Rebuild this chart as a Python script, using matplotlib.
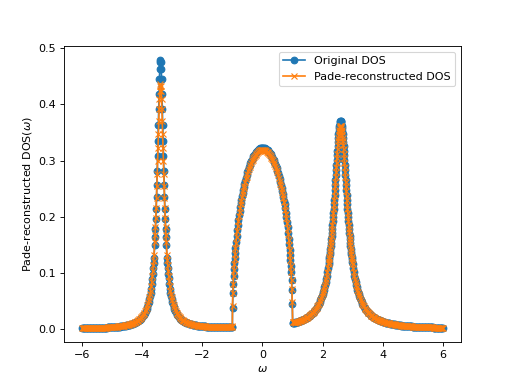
import matplotlib
matplotlib.use('Agg')
import matplotlib.pyplot as plt

# frequency grid (denser where the curves are steep)
omega = [
    # left tail
    -6.000, -5.975, -5.950, -5.925, -5.900, -5.875, -5.850, -5.825,
    -5.800, -5.775, -5.750, -5.725, -5.700, -5.675, -5.650, -5.625,
    -5.600, -5.575, -5.550, -5.525, -5.500, -5.475, -5.450, -5.425,
    -5.400, -5.375, -5.350, -5.325, -5.300, -5.275, -5.250, -5.225,
    -5.200, -5.175, -5.150, -5.125, -5.100, -5.075, -5.050, -5.025,
    -5.000, -4.975, -4.950, -4.925, -4.900, -4.875, -4.850, -4.825,
    -4.800, -4.775, -4.750, -4.725, -4.700, -4.675, -4.650, -4.625,
    -4.600, -4.575, -4.550, -4.525, -4.500, -4.475, -4.450, -4.425,
    -4.400, -4.375, -4.350, -4.325, -4.300, -4.275, -4.250, -4.225,
    -4.200, -4.175, -4.150, -4.125, -4.100, -4.075, -4.050, -4.025,
    -4.000,
    -3.975, -3.95, -3.925, -3.90, -3.875, -3.85, -3.825, -3.80, -3.78, -3.76,
    -3.74, -3.72, -3.70, -3.68, -3.66, -3.645, -3.63, -3.618, -3.606,
    # first peak
    -3.582, -3.570, -3.558, -3.546, -3.534, -3.522, -3.510, -3.498, -3.486, -3.474,
    -3.462, -3.450, -3.438, -3.426, -3.414, -3.402, -3.390, -3.378, -3.366, -3.354,
    -3.342, -3.330, -3.318, -3.306, -3.294, -3.282, -3.270, -3.258, -3.246, -3.234,
    -3.222, -3.210, -3.198,
    -3.174, -3.162, -3.15, -3.135, -3.12, -3.10, -3.08, -3.06, -3.04, -3.02,
    -3.00, -2.98, -2.955, -2.93, -2.905, -2.88, -2.855, -2.83, -2.805, -2.78,
    -2.750, -2.725, -2.700, -2.675, -2.650, -2.625, -2.600, -2.575,
    -2.550, -2.525, -2.500, -2.475, -2.450, -2.425, -2.400, -2.375,
    -2.350, -2.325, -2.300, -2.275, -2.250, -2.225, -2.200, -2.175,
    -2.150, -2.125, -2.100, -2.075, -2.050, -2.025, -2.000, -1.975,
    -1.950, -1.925, -1.900, -1.875, -1.850, -1.825, -1.800, -1.775,
    -1.750, -1.725, -1.700, -1.675, -1.650, -1.625, -1.600, -1.575,
    -1.550, -1.525, -1.500, -1.475, -1.450, -1.425, -1.400, -1.375,
    -1.350, -1.325, -1.300, -1.275, -1.250, -1.225, -1.200, -1.175,
    -1.150, -1.125, -1.100, -1.075, -1.050, -1.025, -1.000,
    # central band
    -0.994, -0.982, -0.970, -0.958, -0.946, -0.934, -0.922, -0.910, -0.895, -0.880,
    -0.86, -0.84, -0.82, -0.80, -0.78, -0.76, -0.74, -0.72, -0.70, -0.68,
    -0.66, -0.64, -0.62, -0.60, -0.575, -0.55, -0.525, -0.50, -0.475, -0.45,
    -0.425, -0.40, -0.375, -0.35, -0.325, -0.30, -0.275, -0.25, -0.225, -0.20,
    -0.175, -0.15, -0.125, -0.10, -0.075, -0.05, -0.025, 0.0,
    0.025, 0.05, 0.075, 0.10, 0.125, 0.15, 0.175, 0.20, 0.225, 0.25,
    0.275, 0.30, 0.325, 0.35, 0.375, 0.40, 0.425, 0.45, 0.475, 0.50,
    0.525, 0.55, 0.575, 0.60, 0.62, 0.64, 0.66, 0.68, 0.70, 0.72,
    0.74, 0.76, 0.78, 0.80, 0.82, 0.84, 0.86, 0.880, 0.895, 0.910,
    0.922, 0.934, 0.946, 0.958, 0.970, 0.982, 0.994,
    1.006, 1.025, 1.050, 1.075, 1.100, 1.125, 1.150, 1.175,
    1.200, 1.225, 1.250, 1.275, 1.300, 1.325, 1.350, 1.375,
    1.400, 1.425, 1.450, 1.475, 1.500, 1.525, 1.550, 1.575,
    1.600, 1.625, 1.650, 1.675, 1.700, 1.725, 1.750, 1.775,
    1.800, 1.825, 1.850, 1.875, 1.900, 1.925, 1.950, 1.975,
    2.000,
    # second peak
    2.02, 2.04, 2.06, 2.08, 2.10, 2.12, 2.14, 2.16, 2.18,
    2.20, 2.21, 2.22, 2.23, 2.24, 2.25, 2.26, 2.27, 2.28, 2.29,
    2.30, 2.31, 2.32, 2.33, 2.34, 2.35, 2.36, 2.37, 2.38, 2.39,
    2.40, 2.41, 2.42, 2.43, 2.44, 2.45, 2.46, 2.47, 2.48, 2.49,
    2.50, 2.51, 2.52, 2.53, 2.54, 2.55, 2.56, 2.57, 2.58, 2.59,
    2.60, 2.61, 2.62, 2.63, 2.64, 2.65, 2.66, 2.67, 2.68, 2.69,
    2.70, 2.71, 2.72, 2.73, 2.74, 2.75, 2.76, 2.77, 2.78, 2.79,
    2.80, 2.81, 2.82, 2.83, 2.84, 2.85, 2.86, 2.87, 2.88, 2.89,
    2.90, 2.91, 2.92, 2.93, 2.94, 2.95, 2.96, 2.97, 2.98, 2.99,
    3.00,
    3.02, 3.04, 3.06, 3.08, 3.10, 3.12, 3.14, 3.16, 3.18,
    # right tail
    3.200, 3.225, 3.250, 3.275, 3.300, 3.325, 3.350, 3.375,
    3.400, 3.425, 3.450, 3.475, 3.500, 3.525, 3.550, 3.575,
    3.600, 3.625, 3.650, 3.675, 3.700, 3.725, 3.750, 3.775,
    3.800, 3.825, 3.850, 3.875, 3.900, 3.925, 3.950, 3.975,
    4.000, 4.025, 4.050, 4.075, 4.100, 4.125, 4.150, 4.175,
    4.200, 4.225, 4.250, 4.275, 4.300, 4.325, 4.350, 4.375,
    4.400, 4.425, 4.450, 4.475, 4.500, 4.525, 4.550, 4.575,
    4.600, 4.625, 4.650, 4.675, 4.700, 4.725, 4.750, 4.775,
    4.800, 4.825, 4.850, 4.875, 4.900, 4.925, 4.950, 4.975,
    5.000, 5.025, 5.050, 5.075, 5.100, 5.125, 5.150, 5.175,
    5.200, 5.225, 5.250, 5.275, 5.300, 5.325, 5.350, 5.375,
    5.400, 5.425, 5.450, 5.475, 5.500, 5.525, 5.550, 5.575,
    5.600, 5.625, 5.650, 5.675, 5.700, 5.725, 5.750, 5.775,
    5.800, 5.825, 5.850, 5.875, 5.900, 5.925, 5.950, 5.975,
    6.000,
]

dos_original = [
    0.0016, 0.0016, 0.0016, 0.0017, 0.0017, 0.0017, 0.0017, 0.0018,
    0.0018, 0.0019, 0.0019, 0.0019, 0.0020, 0.0020, 0.0020, 0.0021,
    0.0021, 0.0022, 0.0022, 0.0022, 0.0023, 0.0023, 0.0024, 0.0024,
    0.0024, 0.0025, 0.0025, 0.0026, 0.0027, 0.0027, 0.0028, 0.0029,
    0.0029, 0.0030, 0.0031, 0.0031, 0.0032, 0.0033, 0.0034, 0.0035,
    0.0036, 0.0037, 0.0038, 0.0039, 0.0040, 0.0041, 0.0043, 0.0044,
    0.0045, 0.0047, 0.0048, 0.0050, 0.0052, 0.0054, 0.0056, 0.0058,
    0.0060, 0.0062, 0.0065, 0.0067, 0.0070, 0.0073, 0.0076, 0.0079,
    0.0083, 0.0087, 0.0091, 0.0096, 0.0101, 0.0106, 0.0112, 0.0118,
    0.0125, 0.0133, 0.0141, 0.0150, 0.0160, 0.0171, 0.0183, 0.0197,
    0.0213,
    0.0230, 0.0250, 0.0272, 0.0297, 0.0325, 0.0358, 0.0396, 0.0441, 0.0482, 0.0529,
    0.0583, 0.0645, 0.0717, 0.0802, 0.0901, 0.0987, 0.1085, 0.1172, 0.1270,
    0.1500, 0.1635, 0.1786, 0.1954, 0.2140, 0.2346, 0.2572, 0.2817, 0.3081, 0.3358,
    0.3642, 0.3923, 0.4187, 0.4450, 0.4638, 0.4757, 0.4800, 0.4757, 0.4638, 0.4450,
    0.4187, 0.3923, 0.3642, 0.3358, 0.3081, 0.2817, 0.2572, 0.2346, 0.2140, 0.1954,
    0.1786, 0.1635, 0.1500,
    0.1272, 0.1174, 0.1087, 0.0989, 0.0903, 0.0804, 0.0719, 0.0647, 0.0585, 0.0531,
    0.0484, 0.0443, 0.0398, 0.0360, 0.0327, 0.0299, 0.0274, 0.0252, 0.0233, 0.0216,
    0.0197, 0.0184, 0.0172, 0.0161, 0.0151, 0.0143, 0.0135, 0.0128,
    0.0121, 0.0115, 0.0109, 0.0104, 0.0100, 0.0096, 0.0092, 0.0088,
    0.0085, 0.0081, 0.0078, 0.0075, 0.0073, 0.0070, 0.0068, 0.0066,
    0.0064, 0.0062, 0.0060, 0.0058, 0.0057, 0.0055, 0.0054, 0.0052,
    0.0051, 0.0050, 0.0049, 0.0048, 0.0047, 0.0046, 0.0046, 0.0045,
    0.0044, 0.0043, 0.0043, 0.0042, 0.0041, 0.0040, 0.0040, 0.0039,
    0.0039, 0.0038, 0.0038, 0.0038, 0.0037, 0.0037, 0.0037, 0.0037,
    0.0036, 0.0036, 0.0036, 0.0036, 0.0036, 0.0036, 0.0036, 0.0036,
    0.0035, 0.0035, 0.0035, 0.0035, 0.0035, 0.0035, 0.0035,
    0.0383, 0.0636, 0.0808, 0.0947, 0.1066, 0.1171, 0.1266, 0.1354, 0.1454, 0.1546,
    0.1659, 0.1761, 0.1856, 0.1944, 0.2026, 0.2103, 0.2175, 0.2244, 0.2308, 0.2369,
    0.2426, 0.2480, 0.2532, 0.2581, 0.2640, 0.2694, 0.2745, 0.2792, 0.2837, 0.2879,
    0.2918, 0.2955, 0.2988, 0.3020, 0.3048, 0.3076, 0.3099, 0.3122, 0.3142, 0.3159,
    0.3175, 0.3189, 0.3200, 0.3210, 0.3217, 0.3223, 0.3226, 0.3227,
    0.3227, 0.3224, 0.3220, 0.3213, 0.3205, 0.3195, 0.3182, 0.3168, 0.3152, 0.3133,
    0.3112, 0.3090, 0.3064, 0.3037, 0.3007, 0.2975, 0.2940, 0.2902, 0.2861, 0.2819,
    0.2773, 0.2724, 0.2671, 0.2615, 0.2567, 0.2517, 0.2464, 0.2409, 0.2349, 0.2287,
    0.2220, 0.2150, 0.2074, 0.1994, 0.1908, 0.1815, 0.1714, 0.1603, 0.1514, 0.1416,
    0.1329, 0.1236, 0.1132, 0.1015, 0.0877, 0.0706, 0.0454,
    0.0107, 0.0110, 0.0113, 0.0116, 0.0120, 0.0124, 0.0128, 0.0132,
    0.0136, 0.0141, 0.0146, 0.0151, 0.0156, 0.0162, 0.0168, 0.0174,
    0.0181, 0.0188, 0.0196, 0.0204, 0.0213, 0.0222, 0.0232, 0.0243,
    0.0254, 0.0266, 0.0279, 0.0293, 0.0308, 0.0324, 0.0342, 0.0361,
    0.0381, 0.0403, 0.0427, 0.0453, 0.0482, 0.0513, 0.0547, 0.0585,
    0.0626,
    0.0662, 0.0701, 0.0743, 0.0789, 0.0838, 0.0892, 0.0951, 0.1015, 0.1085,
    0.1161, 0.1202, 0.1244, 0.1289, 0.1335, 0.1383, 0.1434, 0.1487, 0.1542, 0.1599,
    0.1659, 0.1721, 0.1786, 0.1853, 0.1923, 0.1995, 0.2070, 0.2147, 0.2227, 0.2308,
    0.2392, 0.2478, 0.2565, 0.2653, 0.2741, 0.2830, 0.2919, 0.3007, 0.3093, 0.3176,
    0.3257, 0.3333, 0.3404, 0.3470, 0.3529, 0.3580, 0.3624, 0.3658, 0.3683, 0.3698,
    0.3703, 0.3698, 0.3683, 0.3658, 0.3624, 0.3580, 0.3529, 0.3470, 0.3404, 0.3333,
    0.3257, 0.3176, 0.3093, 0.3007, 0.2919, 0.2830, 0.2741, 0.2653, 0.2565, 0.2478,
    0.2392, 0.2308, 0.2227, 0.2147, 0.2070, 0.1995, 0.1923, 0.1853, 0.1786, 0.1721,
    0.1659, 0.1599, 0.1542, 0.1487, 0.1434, 0.1383, 0.1335, 0.1289, 0.1244, 0.1202,
    0.1161,
    0.1085, 0.1015, 0.0951, 0.0892, 0.0838, 0.0789, 0.0743, 0.0701, 0.0662,
    0.0626, 0.0585, 0.0548, 0.0513, 0.0482, 0.0454, 0.0428, 0.0403,
    0.0381, 0.0361, 0.0342, 0.0325, 0.0309, 0.0294, 0.0280, 0.0267,
    0.0254, 0.0243, 0.0233, 0.0222, 0.0213, 0.0204, 0.0196, 0.0188,
    0.0181, 0.0174, 0.0168, 0.0162, 0.0156, 0.0150, 0.0145, 0.0140,
    0.0136, 0.0131, 0.0127, 0.0123, 0.0119, 0.0115, 0.0112, 0.0108,
    0.0105, 0.0102, 0.0099, 0.0096, 0.0093, 0.0091, 0.0088, 0.0086,
    0.0084, 0.0081, 0.0079, 0.0077, 0.0075, 0.0073, 0.0071, 0.0070,
    0.0068, 0.0066, 0.0065, 0.0063, 0.0062, 0.0060, 0.0059, 0.0058,
    0.0057, 0.0055, 0.0054, 0.0053, 0.0052, 0.0051, 0.0050, 0.0049,
    0.0048, 0.0047, 0.0046, 0.0045, 0.0045, 0.0044, 0.0043, 0.0042,
    0.0041, 0.0041, 0.0040, 0.0039, 0.0039, 0.0038, 0.0037, 0.0037,
    0.0036, 0.0036, 0.0035, 0.0035, 0.0034, 0.0034, 0.0033, 0.0033,
    0.0032, 0.0032, 0.0031, 0.0031, 0.0030, 0.0030, 0.0029, 0.0029,
    0.0028, 0.0028, 0.0027, 0.0027, 0.0027, 0.0026, 0.0026, 0.0025,
    0.0025,
]

dos_pade = [
    0.0016, 0.0016, 0.0016, 0.0017, 0.0017, 0.0017, 0.0017, 0.0018,
    0.0018, 0.0019, 0.0019, 0.0019, 0.0020, 0.0020, 0.0020, 0.0021,
    0.0021, 0.0022, 0.0022, 0.0022, 0.0023, 0.0023, 0.0024, 0.0024,
    0.0024, 0.0025, 0.0025, 0.0026, 0.0027, 0.0027, 0.0028, 0.0029,
    0.0029, 0.0030, 0.0031, 0.0031, 0.0032, 0.0033, 0.0034, 0.0035,
    0.0036, 0.0037, 0.0038, 0.0039, 0.0040, 0.0041, 0.0043, 0.0044,
    0.0049, 0.0051, 0.0052, 0.0054, 0.0056, 0.0058, 0.0060, 0.0062,
    0.0065, 0.0068, 0.0070, 0.0073, 0.0076, 0.0079, 0.0082, 0.0086,
    0.0090, 0.0094, 0.0099, 0.0104, 0.0109, 0.0115, 0.0121, 0.0128,
    0.0136, 0.0144, 0.0153, 0.0163, 0.0173, 0.0185, 0.0198, 0.0213,
    0.0230,
    0.0248, 0.0270, 0.0293, 0.0320, 0.0350, 0.0386, 0.0426, 0.0473, 0.0516, 0.0565,
    0.0622, 0.0687, 0.0762, 0.0849, 0.0950, 0.1037, 0.1135, 0.1223, 0.1321,
    0.1546, 0.1677, 0.1821, 0.1979, 0.2153, 0.2342, 0.2546, 0.2765, 0.2993, 0.3230,
    0.3468, 0.3699, 0.3912, 0.4095, 0.4237, 0.4327, 0.4358, 0.4327, 0.4237, 0.4095,
    0.3912, 0.3699, 0.3468, 0.3230, 0.2993, 0.2765, 0.2546, 0.2342, 0.2153, 0.1979,
    0.1821, 0.1677, 0.1546,
    0.1322, 0.1225, 0.1137, 0.1039, 0.0952, 0.0850, 0.0763, 0.0689, 0.0624, 0.0567,
    0.0518, 0.0475, 0.0428, 0.0388, 0.0352, 0.0322, 0.0295, 0.0272, 0.0251, 0.0233,
    0.0212, 0.0197, 0.0184, 0.0172, 0.0161, 0.0151, 0.0143, 0.0135,
    0.0127, 0.0120, 0.0114, 0.0108, 0.0103, 0.0098, 0.0094, 0.0090,
    0.0086, 0.0082, 0.0079, 0.0076, 0.0073, 0.0070, 0.0068, 0.0066,
    0.0064, 0.0062, 0.0060, 0.0058, 0.0057, 0.0055, 0.0054, 0.0052,
    0.0051, 0.0050, 0.0049, 0.0048, 0.0047, 0.0046, 0.0046, 0.0045,
    0.0044, 0.0043, 0.0043, 0.0042, 0.0041, 0.0040, 0.0040, 0.0039,
    0.0039, 0.0038, 0.0038, 0.0038, 0.0037, 0.0037, 0.0037, 0.0037,
    0.0036, 0.0036, 0.0036, 0.0036, 0.0036, 0.0036, 0.0036, 0.0036,
    0.0035, 0.0035, 0.0035, 0.0035, 0.0038, 0.0045, 0.0055,
    0.0420, 0.0650, 0.0810, 0.0945, 0.1062, 0.1165, 0.1258, 0.1345, 0.1443, 0.1533,
    0.1646, 0.1744, 0.1839, 0.1927, 0.2009, 0.2081, 0.2153, 0.2222, 0.2286, 0.2347,
    0.2400, 0.2454, 0.2506, 0.2555, 0.2614, 0.2665, 0.2716, 0.2763, 0.2808, 0.2848,
    0.2887, 0.2924, 0.2957, 0.2989, 0.3017, 0.3042, 0.3065, 0.3088, 0.3108, 0.3125,
    0.3141, 0.3155, 0.3166, 0.3176, 0.3183, 0.3189, 0.3192, 0.3193,
    0.3193, 0.3190, 0.3186, 0.3179, 0.3171, 0.3161, 0.3148, 0.3134, 0.3118, 0.3099,
    0.3078, 0.3056, 0.3033, 0.3006, 0.2976, 0.2944, 0.2909, 0.2871, 0.2832, 0.2790,
    0.2744, 0.2695, 0.2645, 0.2589, 0.2541, 0.2491, 0.2438, 0.2387, 0.2327, 0.2265,
    0.2198, 0.2128, 0.2057, 0.1977, 0.1891, 0.1798, 0.1701, 0.1594, 0.1507, 0.1410,
    0.1325, 0.1233, 0.1131, 0.1015, 0.0880, 0.0715, 0.0490,
    0.0135, 0.0126, 0.0120, 0.0119, 0.0122, 0.0125, 0.0129, 0.0133,
    0.0137, 0.0142, 0.0147, 0.0152, 0.0157, 0.0163, 0.0169, 0.0175,
    0.0182, 0.0189, 0.0197, 0.0205, 0.0214, 0.0224, 0.0234, 0.0245,
    0.0256, 0.0268, 0.0281, 0.0295, 0.0310, 0.0327, 0.0345, 0.0364,
    0.0384, 0.0406, 0.0430, 0.0456, 0.0485, 0.0516, 0.0551, 0.0589,
    0.0630,
    0.0665, 0.0704, 0.0746, 0.0792, 0.0841, 0.0895, 0.0954, 0.1018, 0.1088,
    0.1164, 0.1205, 0.1247, 0.1292, 0.1338, 0.1386, 0.1437, 0.1490, 0.1545, 0.1602,
    0.1662, 0.1723, 0.1787, 0.1852, 0.1921, 0.1991, 0.2064, 0.2139, 0.2216, 0.2295,
    0.2376, 0.2459, 0.2543, 0.2627, 0.2712, 0.2797, 0.2882, 0.2966, 0.3047, 0.3127,
    0.3203, 0.3275, 0.3342, 0.3404, 0.3460, 0.3508, 0.3549, 0.3581, 0.3604, 0.3618,
    0.3623, 0.3618, 0.3604, 0.3581, 0.3549, 0.3508, 0.3460, 0.3404, 0.3342, 0.3275,
    0.3203, 0.3127, 0.3047, 0.2966, 0.2882, 0.2797, 0.2712, 0.2627, 0.2543, 0.2459,
    0.2376, 0.2295, 0.2216, 0.2139, 0.2064, 0.1991, 0.1921, 0.1852, 0.1787, 0.1723,
    0.1662, 0.1602, 0.1545, 0.1490, 0.1437, 0.1386, 0.1338, 0.1292, 0.1247, 0.1205,
    0.1164,
    0.1088, 0.1018, 0.0954, 0.0895, 0.0841, 0.0792, 0.0746, 0.0704, 0.0665,
    0.0630, 0.0589, 0.0551, 0.0516, 0.0485, 0.0457, 0.0431, 0.0406,
    0.0384, 0.0364, 0.0344, 0.0327, 0.0311, 0.0296, 0.0282, 0.0268,
    0.0256, 0.0244, 0.0234, 0.0223, 0.0213, 0.0204, 0.0196, 0.0188,
    0.0181, 0.0174, 0.0168, 0.0162, 0.0156, 0.0150, 0.0145, 0.0140,
    0.0136, 0.0131, 0.0127, 0.0123, 0.0119, 0.0115, 0.0112, 0.0108,
    0.0105, 0.0102, 0.0099, 0.0096, 0.0093, 0.0091, 0.0088, 0.0086,
    0.0084, 0.0081, 0.0079, 0.0077, 0.0075, 0.0073, 0.0071, 0.0070,
    0.0068, 0.0066, 0.0065, 0.0063, 0.0062, 0.0060, 0.0059, 0.0058,
    0.0057, 0.0055, 0.0054, 0.0053, 0.0052, 0.0051, 0.0050, 0.0049,
    0.0048, 0.0047, 0.0046, 0.0045, 0.0045, 0.0044, 0.0043, 0.0042,
    0.0041, 0.0041, 0.0040, 0.0039, 0.0039, 0.0038, 0.0037, 0.0037,
    0.0036, 0.0036, 0.0035, 0.0035, 0.0034, 0.0034, 0.0033, 0.0033,
    0.0032, 0.0032, 0.0031, 0.0031, 0.0030, 0.0030, 0.0029, 0.0029,
    0.0028, 0.0028, 0.0027, 0.0027, 0.0027, 0.0026, 0.0026, 0.0025,
    0.0025,
]

fig = plt.figure(figsize=(6.4, 4.8), dpi=80)
ax = fig.add_subplot(1, 1, 1)

ax.plot(omega, dos_original, 'o-', label='Original DOS')
ax.plot(omega, dos_pade, 'x-', label='Pade-reconstructed DOS')

ax.set_xlabel(r'$\omega$')
ax.set_ylabel(r'Pade-reconstructed DOS($\omega$)')
ax.legend(loc='upper right')

fig.savefig('out.png', dpi=80)
